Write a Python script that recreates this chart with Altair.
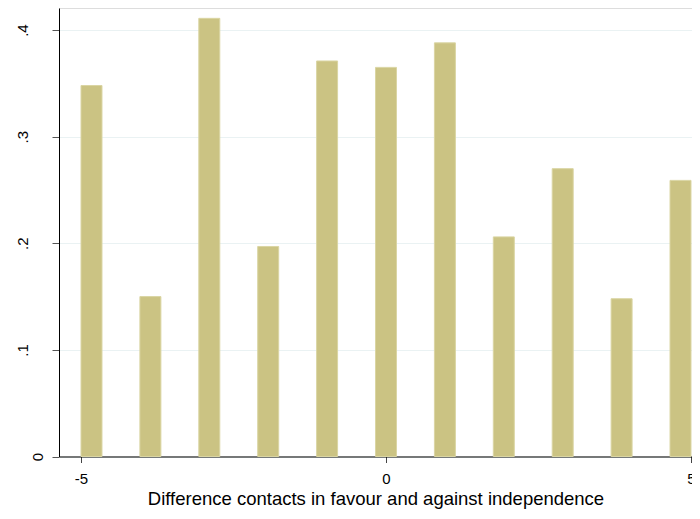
import altair as alt
import pandas as pd

diff = [-5, -4, -3, -2, -1, 0, 1, 2, 3, 4, 5]
frac = [0.348, 0.150, 0.411, 0.197, 0.371, 0.365, 0.388, 0.206, 0.270, 0.148, 0.259]
x_ticks = [-5, 0, 5]
y_ticks = [0, 0.1, 0.2, 0.3, 0.4]

# Bars spread over the [-5, 5] range as in the original histogram
bar_w = 0.344
pitch = (10 - bar_w) / 10
df = pd.DataFrame({"diff": diff, "frac": frac})
df["x0"] = -5 + (df["diff"] + 5) * pitch
df["x1"] = df["x0"] + bar_w

FONT = "Liberation Sans"

chart = alt.Chart(df).mark_bar(
    color="#CBC383", stroke="#DAD5A3", strokeWidth=1
).encode(
    x=alt.X("x0:Q",
            scale=alt.Scale(domain=[-5.3607, 5.0164], nice=False, zero=False),
            axis=alt.Axis(values=x_ticks, grid=False,
                          labelExpr="datum.value < 0 ? '-' + abs(datum.value) : '' + datum.value",
                          title="Difference contacts in favour and against independence",
                          labelFontSize=15, titleFontSize=18.5, labelFont=FONT, titleFont=FONT,
                          titleFontWeight="normal",
                          labelColor="#000", titleColor="#000", domainColor="#000",
                          tickColor="#444", tickSize=6, labelPadding=9, titlePadding=3,
                          labelFlush=False, labelOverlap=False)),
    x2="x1:Q",
    y=alt.Y("frac:Q",
            scale=alt.Scale(domain=[0, 0.4207], nice=False),
            axis=alt.Axis(values=y_ticks, format=".1~f", labelExpr="replace(datum.label, /^0\\./, '.')",
                          title=None, grid=True, gridColor="#EAF2F3", gridWidth=1,
                          labelAngle=270, labelFontSize=15, labelFont=FONT, labelColor="#000",
                          domainColor="#000", tickColor="#555", tickSize=7,
                          labelPadding={"condition": {"test": "datum.value === 0", "value": 7}, "value": 22},
                          labelFlush=False, labelOverlap=False)),
    y2=alt.datum(0),
).properties(
    width=633, height=448.5,
    autosize=alt.AutoSizeParams(type="none"),
    padding={"left": 51, "top": 0, "right": 0, "bottom": 54.5},
).configure_view(stroke=None).configure(background="white")

chart.save("out.html", embed_options={"renderer": "svg", "actions": False})
